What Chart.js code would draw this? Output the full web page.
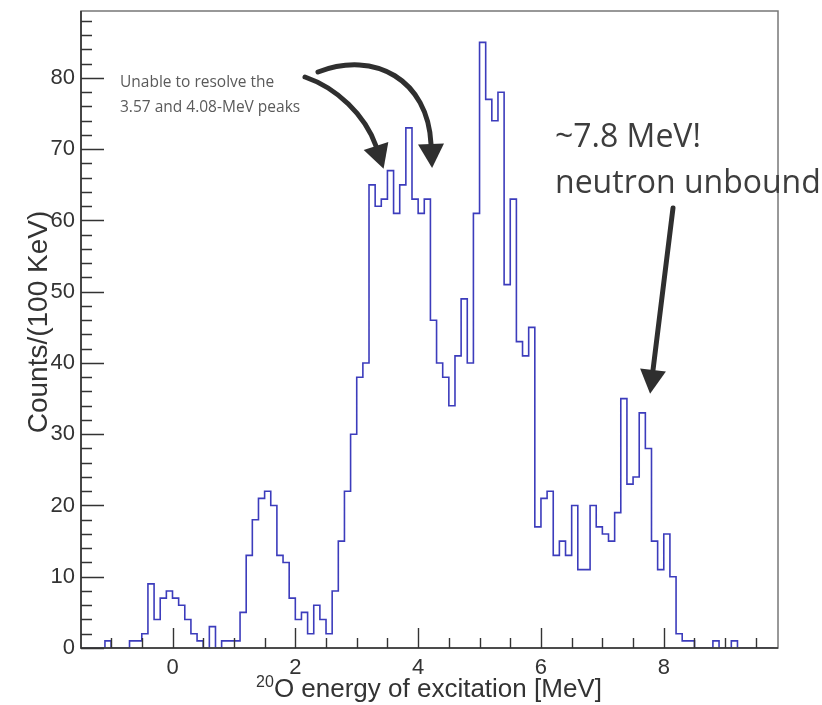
<!DOCTYPE html>
<html>
<head>
<meta charset="utf-8">
<script src="https://cdn.jsdelivr.net/npm/chart.js@4.4.0/dist/chart.umd.min.js"></script>
<style>
  body { margin: 0; background: #fff; }
  #wrap { width: 822px; height: 705px; }
</style>
</head>
<body>
<div id="wrap"><canvas id="spectrum" width="822" height="705"></canvas></div>
<script>
// 20O excitation spectrum, 100 keV bins starting at -1.5 MeV
var binStart = -1.5;
var binWidth = 0.1;
var counts = [
  0, 0, 0, 0, 1,      0, 0, 0, 1, 1,
  2, 9, 4, 7, 8,      7, 6, 4, 2, 1,
  0, 3, 0, 1, 1,      1, 5, 13, 18, 21,
  22, 20, 13, 12, 7,  4, 5, 2, 6, 4,
  2, 8, 15, 22, 30,   38, 40, 65, 62, 63,
  67, 61, 65, 73, 63, 61, 63, 46, 40, 38,
  34, 41, 49, 40, 61, 85, 77, 74, 78, 51,
  63, 43, 41, 45, 17, 21, 22, 13, 15, 13,
  20, 11, 11, 20, 17, 16, 15, 19, 35, 23,
  24, 33, 28, 15, 11, 16, 10, 2, 1, 1,
  0, 0, 0, 1, 0,      0, 1, 0, 0, 0,
  0, 0, 0
];
var xTickLabels = [0, 2, 4, 6, 8];
var yTickLabels = [0, 10, 20, 30, 40, 50, 60, 70, 80];
var xRange = [-1.49, 9.86];
var yRange = [0, 89.4];

var histColor = '#3c3cbc';
var inkColor = '#333333';

// step points: one per bin low edge, plus the closing edge
var points = counts.map(function (c, i) {
  return { x: +(binStart + i * binWidth).toFixed(2), y: c };
});
points.push({ x: +(binStart + counts.length * binWidth).toFixed(2), y: counts[counts.length - 1] });

function arrowHead(ctx, ex, ey, dx, dy, len, half) {
  var n = Math.sqrt(dx * dx + dy * dy);
  dx /= n; dy /= n;
  ctx.beginPath();
  ctx.moveTo(ex + dx * len, ey + dy * len);
  ctx.lineTo(ex - dy * half, ey + dx * half);
  ctx.lineTo(ex + dy * half, ey - dx * half);
  ctx.closePath();
  ctx.fill();
}

var rootFrame = {
  id: 'rootFrame',
  afterDatasetsDraw: function (chart) {
    var ctx = chart.ctx, a = chart.chartArea;
    var x = chart.scales.x, y = chart.scales.y;
    ctx.save();

    // frame
    ctx.strokeStyle = '#777';
    ctx.lineWidth = 1.5;
    ctx.strokeRect(a.left, a.top, a.right - a.left, a.bottom - a.top);
    ctx.strokeStyle = inkColor;
    ctx.lineWidth = 1.6;
    ctx.beginPath();
    ctx.moveTo(a.left, a.top); ctx.lineTo(a.left, a.bottom); ctx.lineTo(a.right, a.bottom);
    ctx.stroke();

    // ticks pointing into the frame
    ctx.lineWidth = 1.4;
    ctx.beginPath();
    for (var v = 0; v <= yRange[1]; v += 2) {
      var py = Math.round(y.getPixelForValue(v)) + 0.5;
      ctx.moveTo(a.left, py);
      ctx.lineTo(a.left + (v % 10 === 0 ? 23 : 11), py);
    }
    for (var u = -1.5; u <= xRange[1]; u += 0.5) {
      if (u < xRange[0]) continue;
      var px = Math.round(x.getPixelForValue(u)) + 0.5;
      ctx.moveTo(px, a.bottom);
      ctx.lineTo(px, a.bottom - (xTickLabels.indexOf(u) >= 0 ? 20 : 10));
    }
    ctx.stroke();

    // axis titles
    ctx.fillStyle = inkColor;
    ctx.textBaseline = 'alphabetic';
    var big = '26px "Liberation Sans", Arial, sans-serif';
    var sup = '16px "Liberation Sans", Arial, sans-serif';
    var main = 'O energy of excitation [MeV]';
    ctx.font = sup; var w1 = ctx.measureText('20').width;
    ctx.font = big; var w2 = ctx.measureText(main).width;
    var x0 = 429 - (w1 + w2) / 2;
    ctx.font = sup; ctx.textAlign = 'left';
    ctx.fillText('20', x0, 687);
    ctx.font = big;
    ctx.fillText(main, x0 + w1, 697);

    ctx.save();
    ctx.translate(47, 322);
    ctx.rotate(-Math.PI / 2);
    ctx.textAlign = 'center';
    ctx.font = '28px "Liberation Sans", Arial, sans-serif';
    ctx.fillText('Counts/(100 KeV)', 0, 0);
    ctx.restore();

    // annotations
    ctx.textAlign = 'left';
    ctx.fillStyle = '#5a5a5a';
    ctx.font = '15.5px "Open Sans", sans-serif';
    ctx.fillText('Unable to resolve the', 120, 87);
    ctx.fillText('3.57 and 4.08-MeV peaks', 120, 112);
    ctx.fillStyle = '#3d3d3d';
    ctx.font = '32px "Open Sans", sans-serif';
    ctx.fillText('~7.8 MeV!', 555, 147);
    ctx.fillText('neutron unbound', 555, 193);

    // arrows
    ctx.strokeStyle = '#2f2f2f';
    ctx.fillStyle = '#2f2f2f';
    ctx.lineWidth = 5;
    ctx.lineCap = 'round';
    ctx.beginPath();
    ctx.moveTo(305, 77);
    ctx.bezierCurveTo(337, 88, 365, 115, 376, 146);
    ctx.stroke();
    arrowHead(ctx, 376, 146, 11, 33, 24, 13);

    ctx.beginPath();
    ctx.moveTo(318, 72);
    ctx.bezierCurveTo(375, 50, 428, 80, 431, 144);
    ctx.stroke();
    arrowHead(ctx, 431, 144, 3, 66, 24, 13);

    ctx.beginPath();
    ctx.moveTo(673, 208);
    ctx.lineTo(653, 370);
    ctx.stroke();
    arrowHead(ctx, 653, 370, -20, 164, 24, 13);

    ctx.restore();
  }
};

function noScalePadding(s) {
  s.paddingTop = 0; s.paddingBottom = 0; s.paddingLeft = 0; s.paddingRight = 0;
}

var ctx = document.getElementById('spectrum').getContext('2d');
var config = {
  type: 'line',
  data: {
    datasets: [{
      data: points,
      stepped: true,
      borderColor: histColor,
      borderWidth: 1.6,
      pointRadius: 0,
      fill: false
    }]
  },
  options: {
    responsive: false,
    animation: false,
    layout: { padding: { left: 0, top: 11, right: 44, bottom: 0 } },
    plugins: { legend: { display: false }, tooltip: { enabled: false } },
    scales: {
      x: {
        type: 'linear',
        min: xRange[0],
        max: xRange[1],
        afterBuildTicks: function (s) { s.ticks = xTickLabels.map(function (v) { return { value: v }; }); },
        afterFit: function (s) { s.height = 57; noScalePadding(s); },
        grid: { display: false, drawTicks: false },
        border: { display: false },
        ticks: {
          autoSkip: false, maxRotation: 0, padding: 7, color: inkColor,
          font: { family: '"Liberation Sans", Arial, sans-serif', size: 22 }
        }
      },
      y: {
        min: yRange[0],
        max: yRange[1],
        afterBuildTicks: function (s) { s.ticks = yTickLabels.map(function (v) { return { value: v }; }); },
        afterFit: function (s) { s.width = 81; noScalePadding(s); },
        grid: { display: false, drawTicks: false },
        border: { display: false },
        ticks: {
          autoSkip: false, padding: 6, color: inkColor,
          font: { family: '"Liberation Sans", Arial, sans-serif', size: 22 }
        }
      }
    }
  },
  plugins: [rootFrame]
};
new Chart(ctx, config);
</script>
</body>
</html>
